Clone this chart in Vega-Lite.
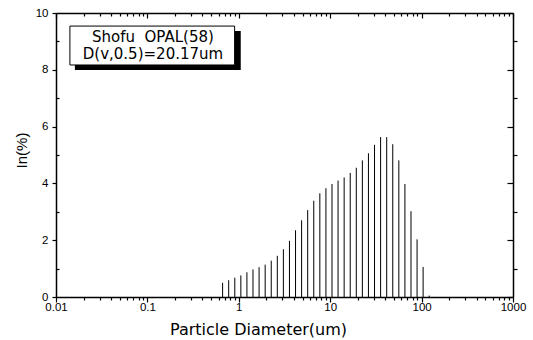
{
  "$schema": "https://vega.github.io/schema/vega-lite/v6.json",
  "autosize": "none",
  "width": 457,
  "height": 284,
  "padding": {"left": 56, "top": 13, "right": 20, "bottom": 43},
  "background": "white",
  "config": {
    "view": {"stroke": null},
    "axis": {"labelFont": "Liberation Sans", "labelFontSize": 11.5, "labelColor": "black", "titleFont": "DejaVu Sans", "titleFontWeight": "normal", "titleColor": "black", "domainColor": "black", "tickColor": "black", "domainWidth": 1.5, "tickWidth": 1.2, "grid": false}
  },
  "datasets": {
    "bars": [
      {"d": 0.665, "v": 0.50}, {"d": 0.775, "v": 0.59}, {"d": 0.904, "v": 0.68}, {"d": 1.053, "v": 0.76},
      {"d": 1.227, "v": 0.87}, {"d": 1.430, "v": 0.97}, {"d": 1.667, "v": 1.05}, {"d": 1.943, "v": 1.14},
      {"d": 2.264, "v": 1.28}, {"d": 2.638, "v": 1.45}, {"d": 3.075, "v": 1.68}, {"d": 3.583, "v": 1.98},
      {"d": 4.176, "v": 2.35}, {"d": 4.866, "v": 2.70}, {"d": 5.671, "v": 3.06}, {"d": 6.609, "v": 3.39},
      {"d": 7.702, "v": 3.65}, {"d": 8.979, "v": 3.83}, {"d": 10.46, "v": 3.98}, {"d": 12.19, "v": 4.10},
      {"d": 14.21, "v": 4.21}, {"d": 16.56, "v": 4.37}, {"d": 19.30, "v": 4.55}, {"d": 22.49, "v": 4.81},
      {"d": 26.21, "v": 5.06}, {"d": 30.55, "v": 5.36}, {"d": 35.60, "v": 5.63}, {"d": 41.50, "v": 5.63},
      {"d": 48.35, "v": 5.38}, {"d": 56.35, "v": 4.81}, {"d": 65.68, "v": 3.98}, {"d": 76.54, "v": 3.02},
      {"d": 89.21, "v": 2.03}, {"d": 103.9, "v": 1.06}, {"d": 121.1, "v": 0.05}
    ],
    "box": [{"x1": 0.0142, "x2": 0.9, "y1": 8.17, "y2": 9.54, "sx1": 0.0161, "sx2": 1.05, "sy1": 7.99, "sy2": 9.37}],
    "labels": [
      {"x": 0.115, "y": 9.15, "t": "Shofu\u00a0 OPAL(58)"},
      {"x": 0.115, "y": 8.55, "t": "D(v,0.5)=20.17um"}
    ]
  },
  "layer": [
    {
      "data": {"name": "bars"},
      "mark": {"type": "rule", "color": "black", "strokeWidth": 1},
      "encoding": {
        "x": {"field": "d", "type": "quantitative", "scale": {"type": "log", "domain": [0.01, 1000], "nice": false},
          "axis": {"orient": "bottom", "title": "Particle Diameter(um)", "titleFontSize": 16, "titleX": 202, "titleY": 37, "titleBaseline": "alphabetic", "titleAlign": "center",
            "values": [0.01,0.02,0.03,0.04,0.05,0.06,0.07,0.08,0.09,0.1,0.2,0.3,0.4,0.5,0.6,0.7,0.8,0.9,1,2,3,4,5,6,7,8,9,10,20,30,40,50,60,70,80,90,100,200,300,400,500,600,700,800,900,1000],
            "labelExpr": "abs(log(datum.value)/LN10 - round(log(datum.value)/LN10)) < 0.001 ? '' + datum.value : ''",
            "tickSize": {"condition": {"test": "abs(log(datum.value)/LN10 - round(log(datum.value)/LN10)) < 0.001", "value": 5}, "value": 3},
            "labelPadding": -1, "labelFlush": false, "labelOverlap": false}},
        "y": {"field": "v", "type": "quantitative", "scale": {"domain": [0, 10], "nice": false},
          "axis": {"orient": "left", "title": "In(%)", "titleFont": "Liberation Sans", "titleFontSize": 15, "titleAngle": -90, "titleX": -35, "titleY": 137, "titleBaseline": "middle", "titleAlign": "center",
            "values": [0,1,2,3,4,5,6,7,8,9,10],
            "labelExpr": "datum.value % 2 == 0 ? '' + datum.value : ''",
            "tickSize": {"condition": {"test": "datum.value % 2 == 0", "value": 4}, "value": -3},
            "labelPadding": 4}},
        "y2": {"datum": 0}
      }
    },
    {
      "data": {"name": "bars"},
      "mark": {"type": "point", "opacity": 0},
      "encoding": {
        "x": {"field": "d", "type": "quantitative", "scale": {"type": "log", "domain": [0.01, 1000], "nice": false},
          "axis": {"orient": "top", "title": null, "labels": false,
            "values": [0.01,0.02,0.03,0.04,0.05,0.06,0.07,0.08,0.09,0.1,0.2,0.3,0.4,0.5,0.6,0.7,0.8,0.9,1,2,3,4,5,6,7,8,9,10,20,30,40,50,60,70,80,90,100,200,300,400,500,600,700,800,900,1000],
            "tickSize": {"condition": {"test": "abs(log(datum.value)/LN10 - round(log(datum.value)/LN10)) < 0.001", "value": -5}, "value": -3}}},
        "y": {"field": "v", "type": "quantitative", "scale": {"domain": [0, 10], "nice": false},
          "axis": {"orient": "right", "title": null, "labels": false,
            "values": [0,1,2,3,4,5,6,7,8,9,10],
            "tickSize": {"condition": {"test": "datum.value % 2 == 0", "value": -6}, "value": 4}}}
      }
    },
    {
      "data": {"name": "box"},
      "mark": {"type": "rect", "fill": "black"},
      "encoding": {
        "x": {"field": "sx1", "type": "quantitative", "scale": {"type": "log", "domain": [0.01, 1000], "nice": false}, "axis": null},
        "x2": {"field": "sx2"},
        "y": {"field": "sy1", "type": "quantitative", "axis": null},
        "y2": {"field": "sy2"}
      }
    },
    {
      "data": {"name": "box"},
      "mark": {"type": "rect", "fill": "white", "stroke": "black", "strokeWidth": 1},
      "encoding": {
        "x": {"field": "x1", "type": "quantitative", "axis": null},
        "x2": {"field": "x2"},
        "y": {"field": "y1", "type": "quantitative", "axis": null},
        "y2": {"field": "y2"}
      }
    },
    {
      "data": {"name": "labels"},
      "mark": {"type": "text", "font": "DejaVu Sans", "fontSize": 15, "color": "black", "align": "center", "baseline": "middle"},
      "encoding": {
        "x": {"field": "x", "type": "quantitative", "axis": null},
        "y": {"field": "y", "type": "quantitative", "axis": null},
        "text": {"field": "t"}
      }
    }
  ],
  "resolve": {"axis": {"x": "independent", "y": "independent"}}
}
